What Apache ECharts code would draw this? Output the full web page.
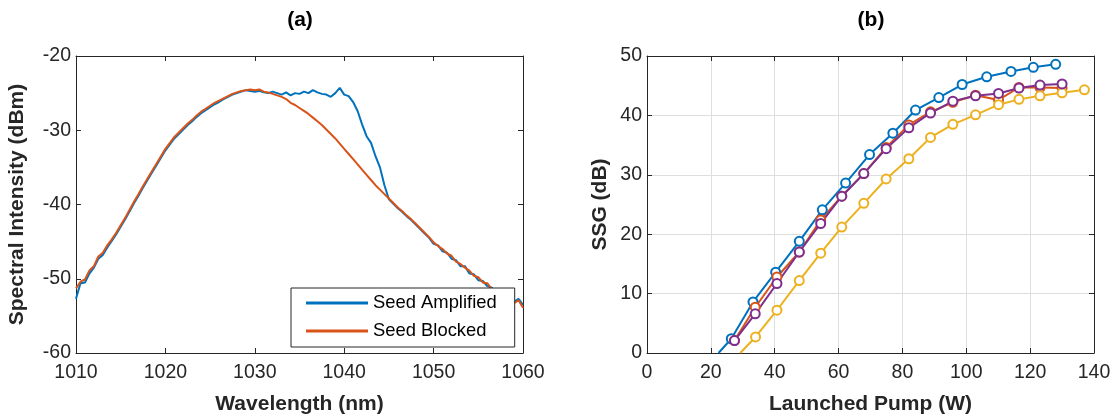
<!DOCTYPE html>
<html>
<head>
<meta charset="utf-8">
<script src="https://cdn.jsdelivr.net/npm/echarts@6/dist/echarts.min.js"></script>
<style>
html,body{margin:0;padding:0;background:#fff;}
#chart{width:1113px;height:416px;}
</style>
</head>
<body>
<div id="chart"></div>
<script>
// ---------- Panel (a): spectra ----------
const wavelength = [1010.0,1010.5,1011.0,1011.5,1012.0,1012.5,1013.0,1013.5,1014.0,1014.5,
1015.0,1015.5,1016.0,1016.5,1017.0,1017.5,1018.0,1018.5,1019.0,1019.5,
1020.0,1020.5,1021.0,1021.5,1022.0,1022.5,1023.0,1023.5,1024.0,1024.5,
1025.0,1025.5,1026.0,1026.5,1027.0,1027.5,1028.0,1028.5,1029.0,1029.5,
1030.0,1030.5,1031.0,1031.5,1032.0,1032.5,1033.0,1033.5,1034.0,1034.5,
1035.0,1035.5,1036.0,1036.5,1037.0,1037.5,1038.0,1038.5,1039.0,1039.5,
1040.0,1040.5,1041.0,1041.5,1042.0,1042.5,1043.0,1043.5,1044.0,1044.5,
1045.0,1045.5,1046.0,1046.5,1047.0,1047.5,1048.0,1048.5,1049.0,1049.5,
1050.0,1050.5,1051.0,1051.5,1052.0,1052.5,1053.0,1053.5,1054.0,1054.5,
1055.0,1055.5,1056.0,1056.5,1057.0,1057.5,1058.0,1058.5,1059.0,1059.5,1060.0];

const seedAmplified = [-52.7,-50.6,-50.5,-49.3,-48.5,-47.3,-46.8,-45.8,-44.9,-44.0,
-43.0,-42.0,-40.9,-39.8,-38.8,-37.7,-36.7,-35.7,-34.7,-33.7,
-32.7,-31.9,-31.1,-30.5,-29.9,-29.3,-28.8,-28.2,-27.7,-27.3,
-26.9,-26.5,-26.2,-25.8,-25.5,-25.2,-25.0,-24.8,-24.6,-24.7,
-24.8,-24.7,-24.9,-25.0,-24.8,-25.0,-25.2,-24.9,-25.3,-25.0,
-25.1,-24.8,-25.0,-24.6,-24.9,-25.1,-25.2,-25.5,-25.0,-24.3,
-25.2,-25.4,-26.2,-27.4,-29.2,-30.8,-31.7,-33.5,-35.0,-37.4,
-39.3,-39.9,-40.5,-41.0,-41.6,-42.1,-42.7,-43.3,-43.9,-44.5,
-45.3,-45.5,-46.3,-46.5,-47.3,-47.5,-48.3,-48.3,-49.3,-49.4,
-50.2,-50.3,-51.0,-51.2,-51.9,-52.3,-52.4,-53.0,-53.1,-52.7,-53.5];

const seedBlocked = [-51.3,-50.4,-50.1,-48.9,-48.3,-47.0,-46.5,-45.5,-44.7,-43.8,
-42.8,-41.8,-40.7,-39.6,-38.6,-37.5,-36.5,-35.5,-34.5,-33.5,
-32.5,-31.7,-30.9,-30.3,-29.7,-29.1,-28.6,-28.0,-27.5,-27.1,
-26.7,-26.3,-26.0,-25.7,-25.4,-25.1,-24.9,-24.7,-24.6,-24.5,
-24.6,-24.5,-24.8,-24.9,-25.1,-25.3,-25.5,-25.8,-26.3,-26.6,
-27.0,-27.4,-27.8,-28.3,-28.8,-29.3,-29.9,-30.5,-31.1,-31.8,
-32.5,-33.2,-33.9,-34.6,-35.3,-36.0,-36.7,-37.4,-38.0,-38.6,
-39.2,-39.8,-40.4,-40.9,-41.5,-42.0,-42.6,-43.2,-43.8,-44.4,
-45.1,-45.6,-46.0,-46.6,-46.9,-47.7,-48.0,-48.5,-48.9,-49.6,
-49.8,-50.5,-50.6,-51.4,-51.7,-52.0,-52.5,-52.8,-53.3,-52.9,-53.9];

const seriesNamesA = ['Seed Amplified', 'Seed Blocked'];

// ---------- Panel (b): small signal gain ----------
const pumpBlue = [26.4,33.2,40.3,47.7,54.9,62.2,69.7,77.0,84.1,91.4,98.7,106.4,114.0,121.0,128.0];
const ssgBlue  = [2.4,8.6,13.6,18.8,24.1,28.6,33.4,37.0,40.9,43.0,45.2,46.5,47.4,48.1,48.6];
const blueTail = [22.4, 0];

const pumpOrange = [27.4,33.9,40.7,47.7,54.4,61.0,67.9,74.9,82.0,88.8,95.8,102.9,110.1,116.5,123.1,130.0];
const ssgOrange  = [2.1,7.7,12.8,17.0,22.4,26.4,30.2,34.6,38.4,40.6,42.2,43.4,42.6,44.7,44.7,44.6];

const pumpYellow = [34.0,40.7,47.7,54.4,61.0,67.9,74.9,82.0,88.8,95.8,102.9,110.1,116.5,123.1,130.0,137.0];
const ssgYellow  = [2.7,7.2,12.2,16.8,21.2,25.2,29.3,32.7,36.3,38.5,40.1,41.8,42.7,43.3,43.8,44.3];
const yellowTail = [29.2, 0];

const pumpPurple = [27.4,33.9,40.7,47.7,54.4,61.0,67.9,74.9,82.0,88.8,95.8,102.9,110.1,116.5,123.1,130.0];
const ssgPurple  = [2.1,6.6,11.7,17.0,21.8,26.4,30.2,34.4,37.9,40.4,42.4,43.3,43.7,44.6,45.1,45.3];

// ---------- build ----------
const FONT = '"Liberation Sans", Arial, Helvetica, sans-serif';
const AX = '#262626';
const C_BLUE = '#0072BD', C_ORANGE = '#D95319', C_YELLOW = '#EDB120', C_PURPLE = '#7E2F8E';

function zip(xs, ys) { return xs.map((x, i) => [x, ys[i]]); }
function withTail(tail, xs, ys) {
  const d = zip(xs, ys);
  if (tail) d.unshift({ value: tail, symbol: 'none' });
  return d;
}
const plain = v => String(v);

function mainAxis(extra) {
  return Object.assign({
    type: 'value',
    axisLine: { show: true, onZero: false, lineStyle: { color: AX, width: 1 } },
    axisTick: { show: true, inside: true, length: 5, lineStyle: { color: AX } },
    splitLine: { show: false },
    nameLocation: 'middle',
    nameMoveOverlap: false,
    nameTextStyle: { color: AX, fontSize: 21, fontWeight: 'bold', fontFamily: FONT }
  }, extra);
}
function boxAxis(extra) {
  return Object.assign({
    type: 'value',
    axisLine: { show: true, onZero: false, lineStyle: { color: AX, width: 1 } },
    axisTick: { show: true, inside: true, length: 5, lineStyle: { color: AX } },
    axisLabel: { show: false },
    splitLine: { show: false }
  }, extra);
}
const gridSplit = { show: true, lineStyle: { color: '#dedede', width: 1 } };
const xLabel = { color: AX, fontSize: 19.5, fontFamily: FONT, margin: 10, formatter: plain };
const yLabel = { color: AX, fontSize: 19.5, fontFamily: FONT, margin: 5, formatter: plain };

const option = {
  animation: false,
  backgroundColor: '#fff',
  graphic: [
    { type: 'text', x: 300, y: 20, style: { text: '(a)', font: 'bold 21px ' + FONT, fill: '#000', textAlign: 'center', textVerticalAlign: 'middle' } },
    { type: 'text', x: 871, y: 20, style: { text: '(b)', font: 'bold 21px ' + FONT, fill: '#000', textAlign: 'center', textVerticalAlign: 'middle' } }
  ],
  grid: [
    { left: 76, right: 590, top: 56, bottom: 63, containLabel: false, outerBoundsMode: 'none' },
    { left: 647, right: 19, top: 56, bottom: 63, containLabel: false, outerBoundsMode: 'none' }
  ],
  xAxis: [
    mainAxis({ gridIndex: 0, min: 1010, max: 1060, interval: 10, name: 'Wavelength (nm)', nameGap: 41, axisLabel: xLabel }),
    boxAxis({ gridIndex: 0, position: 'top', min: 1010, max: 1060, interval: 10 }),
    mainAxis({ gridIndex: 1, min: 0, max: 140, interval: 20, name: 'Launched Pump (W)', nameGap: 41, splitLine: gridSplit, axisLabel: xLabel }),
    boxAxis({ gridIndex: 1, position: 'top', min: 0, max: 140, interval: 20 })
  ],
  yAxis: [
    mainAxis({ gridIndex: 0, min: -60, max: -20, interval: 10, name: 'Spectral Intensity (dBm)', nameGap: 48, axisLabel: yLabel }),
    boxAxis({ gridIndex: 0, position: 'right', min: -60, max: -20, interval: 10 }),
    mainAxis({ gridIndex: 1, min: 0, max: 50, interval: 10, name: 'SSG (dB)', nameGap: 36, splitLine: gridSplit, axisLabel: yLabel }),
    boxAxis({ gridIndex: 1, position: 'right', min: 0, max: 50, interval: 10 })
  ],
  legend: {
    data: seriesNamesA,
    orient: 'vertical',
    left: 291, top: 288,
    backgroundColor: '#fff',
    borderColor: AX, borderWidth: 1,
    padding: [5, 18, 6, 15],
    itemWidth: 62, itemHeight: 3, itemGap: 8,
    icon: 'rect',
    textStyle: { color: '#000', fontSize: 18.4, fontFamily: FONT, lineHeight: 20 }
  },
  series: [
    { name: seriesNamesA[0], type: 'line', xAxisIndex: 0, yAxisIndex: 0, data: zip(wavelength, seedAmplified), showSymbol: false, symbol: 'none', lineStyle: { color: C_BLUE, width: 2 }, itemStyle: { color: C_BLUE }, clip: true },
    { name: seriesNamesA[1], type: 'line', xAxisIndex: 0, yAxisIndex: 0, data: zip(wavelength, seedBlocked), showSymbol: false, symbol: 'none', lineStyle: { color: C_ORANGE, width: 2 }, itemStyle: { color: C_ORANGE }, clip: true },

    { type: 'line', xAxisIndex: 2, yAxisIndex: 2, data: withTail(blueTail, pumpBlue, ssgBlue), symbol: 'emptyCircle', symbolSize: 9, showAllSymbol: true, lineStyle: { color: C_BLUE, width: 2 }, itemStyle: { color: C_BLUE, borderColor: C_BLUE, borderWidth: 1.2 }, clip: true },
    { type: 'line', xAxisIndex: 2, yAxisIndex: 2, data: withTail(null, pumpOrange, ssgOrange), symbol: 'emptyCircle', symbolSize: 9, showAllSymbol: true, lineStyle: { color: C_ORANGE, width: 2 }, itemStyle: { color: C_ORANGE, borderColor: C_ORANGE, borderWidth: 1.2 }, clip: true },
    { type: 'line', xAxisIndex: 2, yAxisIndex: 2, data: withTail(yellowTail, pumpYellow, ssgYellow), symbol: 'emptyCircle', symbolSize: 9, showAllSymbol: true, lineStyle: { color: C_YELLOW, width: 2 }, itemStyle: { color: C_YELLOW, borderColor: C_YELLOW, borderWidth: 1.2 }, clip: true },
    { type: 'line', xAxisIndex: 2, yAxisIndex: 2, data: withTail(null, pumpPurple, ssgPurple), symbol: 'emptyCircle', symbolSize: 9, showAllSymbol: true, lineStyle: { color: C_PURPLE, width: 2 }, itemStyle: { color: C_PURPLE, borderColor: C_PURPLE, borderWidth: 1.2 }, clip: true }
  ]
};

const chart = echarts.init(document.getElementById('chart'), null, { renderer: 'canvas' });
chart.setOption(option);
</script>
</body>
</html>
